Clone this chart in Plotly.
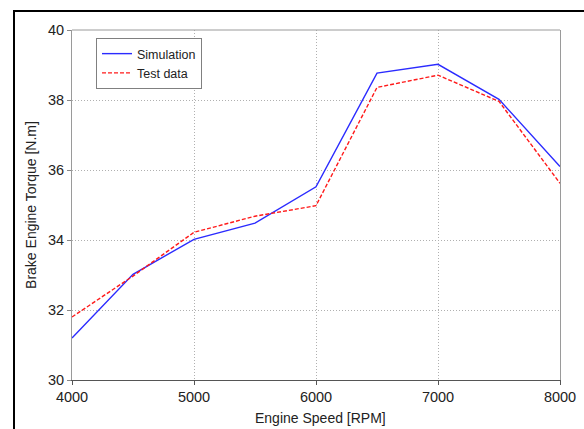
import plotly.graph_objects as go

engine_speed = [4000, 4500, 5000, 5500, 6000, 6500, 7000, 7500, 8000]
simulation = [31.2, 33.02, 34.02, 34.48, 35.52, 38.77, 39.02, 38.02, 36.1]
test_data = [31.8, 32.97, 34.22, 34.68, 34.98, 38.36, 38.71, 37.96, 35.62]

# body margin is removed by the post script, so the figure fills the 584x429 window
W, H = 584, 429
L, R, T, B = 72, 24, 30, 49
pw, ph = W - L - R, H - T - B

fig = go.Figure()
fig.add_trace(go.Scatter(x=engine_speed, y=simulation, mode="lines", name="Simulation",
                         line=dict(color="#2b2bff", width=1.4)))
fig.add_trace(go.Scatter(x=engine_speed, y=test_data, mode="lines", name="Test data",
                         line=dict(color="#ff1a1a", width=1.4, dash="4px,2px")))

axis_common = dict(showline=True, linewidth=1,
                   showgrid=True, gridcolor="#b0b0b0", griddash="1px,2px", gridwidth=1,
                   ticks="outside", ticklen=4, zeroline=False,
                   automargin=False, ticklabeloverflow="allow",
                   tickfont=dict(family="Liberation Sans", size=14.5, color="#222222"))

fig.update_layout(
    width=W, height=H,
    margin=dict(l=L, r=R, t=T, b=B, autoexpand=False),
    paper_bgcolor="white", plot_bgcolor="white",
    font=dict(family="Liberation Sans", size=13, color="#222222"),
    xaxis=dict(range=[4000, 8000], tickvals=[4000, 5000, 6000, 7000, 8000],
               linecolor="#555555", tickcolor="#555555", mirror=False, **axis_common),
    yaxis=dict(range=[30, 40], tickvals=[30, 32, 34, 36, 38, 40],
               linecolor="#9a9a9a", tickcolor="#888888", mirror=True,
               title=dict(text="Brake Engine Torque [N.m]", standoff=8,
                          font=dict(size=14, color="#222222")), **axis_common),
    legend=dict(x=(96 - L) / pw, y=(ph + T - 38) / ph, xanchor="left", yanchor="top",
                bordercolor="#808080", borderwidth=1, bgcolor="white",
                font=dict(size=12.5), tracegroupgap=0, itemwidth=30),
    showlegend=True,
    annotations=[dict(text="Engine Speed [RPM]", xref="paper", yref="paper",
                      x=0.51, y=(T + ph - 418) / ph, xanchor="center", yanchor="middle",
                      showarrow=False, font=dict(size=14, color="#222222"))],
    shapes=[
        dict(type="rect", xref="paper", yref="paper",
             x0=(14 - L) / pw, x1=(W + 40 - L) / pw,
             y0=(T + ph - (H + 40)) / ph, y1=(T + ph - 11) / ph,
             line=dict(color="black", width=2), layer="below"),
        dict(type="line", xref="paper", yref="paper", x0=0, x1=1, y0=1, y1=1,
             line=dict(color="#9a9a9a", width=1)),
    ],
)

fig.write_html("out.html", config={"displayModeBar": False},
               post_script="document.body.style.margin='0';document.body.style.overflow='hidden';")
